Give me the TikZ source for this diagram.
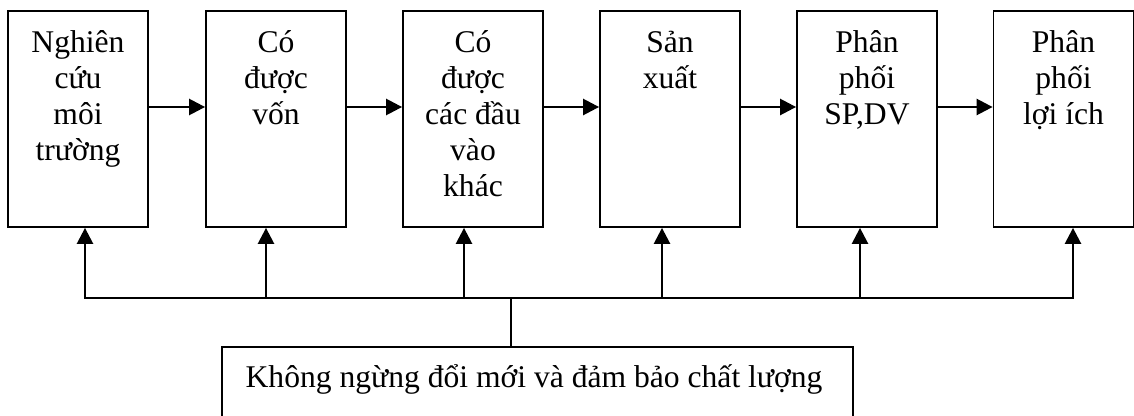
\documentclass[tikz,border=0pt]{standalone}
\usepackage{fontspec}
\setmainfont{Liberation Serif}
\usetikzlibrary{arrows.meta}
\begin{document}
\begin{tikzpicture}[x=1pt,y=-1pt,
  stepbox/.style={draw,line width=1.8pt,minimum width=140pt,minimum height=216pt,inner sep=0pt},
  lbl/.style={anchor=base,inner sep=0pt,font=\fontsize{31.6pt}{36pt}\selectfont},
  arr/.style={line width=2.5pt,-{Triangle[length=16pt,width=16pt]}},
  bus/.style={line width=2.5pt}]
\clip (0,0) rectangle (1134,415);
\fill[white] (0,0) rectangle (1134,415);
% boxes
\node[stepbox] (b1) at (78,119) {};
\node[stepbox] (b2) at (276,119) {};
\node[stepbox] (b3) at (473,119) {};
\node[stepbox] (b4) at (670,119) {};
\node[stepbox] (b5) at (867,119) {};
\node[stepbox] (b6) at (1063.5,119) {};
% texts
\node[lbl] (t1) at (78,52) {\begin{tabular}[t]{@{}c@{}}Nghiên\\cứu\\môi\\trường\end{tabular}};
\node[lbl] (t2) at (276,52) {\begin{tabular}[t]{@{}c@{}}Có\\được\\vốn\end{tabular}};
\node[lbl] (t3) at (473,52) {\begin{tabular}[t]{@{}c@{}}Có\\được\\các đầu\\vào\\khác\end{tabular}};
\node[lbl] (t4) at (670,52) {\begin{tabular}[t]{@{}c@{}}Sản\\xuất\end{tabular}};
\node[lbl] (t5) at (867,52) {\begin{tabular}[t]{@{}c@{}}Phân\\phối\\SP,DV\end{tabular}};
\node[lbl] (t6) at (1063.5,52) {\begin{tabular}[t]{@{}c@{}}Phân\\phối\\lợi ích\end{tabular}};
% horizontal arrows
\draw[arr] ([yshift=12pt]b1.east) -- ([yshift=12pt]b2.west);
\draw[arr] ([yshift=12pt]b2.east) -- ([yshift=12pt]b3.west);
\draw[arr] ([yshift=12pt]b3.east) -- ([yshift=12pt]b4.west);
\draw[arr] ([yshift=12pt]b4.east) -- ([yshift=12pt]b5.west);
\draw[arr] ([yshift=12pt]b5.east) -- ([yshift=12pt]b6.west);
% bottom box
\node[draw,line width=1.8pt,minimum width=631pt,minimum height=93pt,inner sep=0pt] (bb) at (537.5,393.5) {};
\node[lbl] (bt) at (534,387) {Không ngừng đổi mới và đảm bảo chất lượng};
% bus
\coordinate (u1) at (85,298);
\coordinate (u2) at (266,298);
\coordinate (u3) at (464,298);
\coordinate (u4) at (662,298);
\coordinate (u5) at (860,298);
\coordinate (u6) at (1073,298);
\coordinate (stem) at (511,298);
\draw[bus,line cap=rect] (u1) -- (u6);
\draw[bus] (stem) -- (stem |- bb.north);
\draw[arr] (u1) -- (u1 |- b1.south);
\draw[arr] (u2) -- (u2 |- b2.south);
\draw[arr] (u3) -- (u3 |- b3.south);
\draw[arr] (u4) -- (u4 |- b4.south);
\draw[arr] (u5) -- (u5 |- b5.south);
\draw[arr] (u6) -- (u6 |- b6.south);
\end{tikzpicture}
\end{document}
